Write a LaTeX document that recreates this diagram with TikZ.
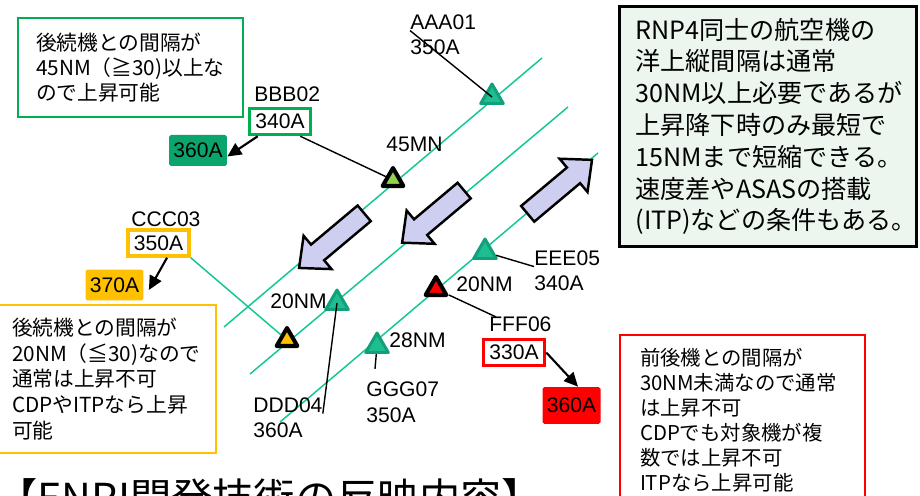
\documentclass[tikz,border=0pt]{standalone}
\usepackage{fontspec}
\setmainfont{Liberation Sans}
\newfontfamily\jpfont{Noto Sans CJK JP}
\usetikzlibrary{arrows.meta,shapes.geometric,shapes.arrows}

\definecolor{trackteal}{RGB}{20,200,150}
\definecolor{planedark}{RGB}{18,160,122}
\definecolor{planelight}{RGB}{30,190,145}
\definecolor{okgreen}{RGB}{0,176,80}
\definecolor{altgreen}{RGB}{10,165,108}
\definecolor{altorange}{RGB}{255,192,0}
\definecolor{climbgreen}{RGB}{146,208,80}
\definecolor{lavender}{RGB}{206,206,240}
\definecolor{mint}{RGB}{236,246,238}

\begin{document}
\begin{tikzpicture}[x=0.02cm, y=-0.02cm,
    track/.style={draw=trackteal, line width=0.85pt},
    leader/.style={draw=black, line width=0.8pt},
    altarrow/.style={draw=black, line width=1.2pt, -{Triangle[length=0.28cm,width=0.26cm]}},
    plane/.style={regular polygon, regular polygon sides=3, minimum size=0.52cm, inner sep=0pt, line width=1.7pt, line join=round},
    flagged/.style={plane, draw=black, line width=2.3pt, minimum size=0.48cm},
    bigarrow/.style={single arrow, draw=black, fill=lavender, line width=1.4pt, inner xsep=0pt, inner ysep=0.18cm, single arrow head extend=0.23cm, single arrow tip angle=84},
    lbl/.style={anchor=base west, inner sep=0pt, font=\fontsize{12}{14}\selectfont},
    altbox/.style={draw, fill=white, line width=2pt, minimum width=1.22cm, minimum height=0.52cm, inner sep=0pt, font=\fontsize{12}{14}\selectfont},
    fillbox/.style={minimum width=1.16cm, minimum height=0.62cm, rounded corners=1pt, inner sep=0pt, font=\fontsize{12}{14}\selectfont},
    note/.style={align=left, inner ysep=0pt}
  ]
  \useasboundingbox (0,0) rectangle (920,496);

  % Explanation boxes
  \node[note, draw=okgreen, line width=1.1pt, minimum width=4.5cm, minimum height=1.98cm, text width=3.78cm, inner xsep=0.36cm, font=\jpfont\fontsize{11.8}{14.2}\selectfont] (n45) at (130.5,67.5) {後続機との間隔が\\45NM（≧30)以上な\\ので上昇可能};
  \node[note, draw=black, line width=1.7pt, fill=mint, minimum width=5.94cm, minimum height=4.8cm, text width=5.3cm, inner xsep=0.32cm, font=\jpfont\fontsize{14.3}{18.1}\selectfont] (nrnp) at (768,126.5) {RNP4同士の航空機の\\洋上縦間隔は通常\\30NM以上必要であるが\\上昇降下時のみ最短で\\15NMまで短縮できる。\\速度差やASASの搭載\\(ITP)などの条件もある。};
  \node[note, draw=altorange, line width=1.1pt, minimum width=4.44cm, minimum height=2.96cm, text width=3.72cm, inner xsep=0.36cm, font=\jpfont\fontsize{11.8}{14.6}\selectfont] (n20) at (105,379) {後続機との間隔が\\20NM（≦30)なので\\通常は上昇不可\\CDPやITPなら上昇\\可能};
  \node[note, draw=red, line width=1.1pt, minimum width=4.9cm, minimum height=3.4cm, text width=4.1cm, inner xsep=0.4cm, font=\jpfont\fontsize{11.6}{14.2}\selectfont] (nlt30) at (742.5,420) {前後機との間隔が\\30NM未満なので通常\\は上昇不可\\CDPでも対象機が複\\数では上昇不可\\ITPなら上昇可能};

  % Tracks
  \coordinate (l1a) at (224,327);
  \coordinate (l1b) at (542,58);
  \coordinate (l2a) at (250,374);
  \coordinate (l2b) at (568,107);
  \coordinate (l3a) at (280,422);
  \coordinate (l3b) at (598,153);
  \draw[track] (l1a) -- (l1b);
  \draw[track] (l2a) -- (l2b);
  \draw[track] (l3a) -- (l3b);

  % Direction of flight
  \node[bigarrow, rotate=220, minimum height=1.7cm] (mv1) at (336,237) {};
  \node[bigarrow, rotate=220, minimum height=1.62cm] (mv2) at (437.5,213) {};
  \node[bigarrow, rotate=40, minimum height=1.68cm] (mv3) at (555.5,190.5) {};

  % Aircraft
  \foreach \n/\x/\y in {1/492/97, 4/337/303, 5/485/252, 7/377/346} {
    \node[plane, draw=planedark, fill=planelight] (t\n) at (\x,\y) {};
  }
  \node[flagged, fill=climbgreen] (t2) at (393,180) {};
  \node[flagged, fill=altorange] (t3) at (287,340) {};
  \node[flagged, fill=red] (t6) at (436,289) {};

  % Flight labels
  \node[lbl] (a1) at (410,30) {AAA01};
  \node[lbl] (a1alt) at (410,55) {350A};
  \node[lbl] (b2) at (254,102) {BBB02};
  \node[altbox, draw=okgreen] (b2alt) at (280,121.5) {340A};
  \node[fillbox, fill=altgreen] (g360) at (198,150.5) {360A};
  \node[lbl] (c3) at (131,227) {CCC03};
  \node[altbox, draw=altorange] (c3alt) at (158.5,243) {350A};
  \node[fillbox, fill=altorange] (o370) at (114.5,285) {370A};
  \node[lbl] (d4) at (253,413) {DDD04};
  \node[lbl] (d4alt) at (253,438) {360A};
  \node[lbl] (e5) at (534,266) {EEE05};
  \node[lbl] (e5alt) at (534,291) {340A};
  \node[lbl] (f6) at (489,332) {FFF06};
  \node[altbox, draw=red] (f6alt) at (514,352.5) {330A};
  \node[fillbox, fill=red, minimum height=0.74cm] (r360) at (571.5,405.5) {360A};
  \node[lbl] (g7) at (366,397) {GGG07};
  \node[lbl] (g7alt) at (366,423) {350A};

  % Spacing labels
  \node[lbl] (gap1) at (386,152) {45MN};
  \node[lbl] (gap2) at (270,309) {20NM};
  \node[lbl] (gap3) at (456,292) {20NM};
  \node[lbl] (gap4) at (389,348) {28NM};

  % Leaders
  \draw[leader] (a1.south west) -- (t1.center);
  \draw[leader] ([xshift=-0.24cm]b2alt.south east) -- (t2);
  \draw[leader] (d4.south east) -- (t4.center);
  \draw[leader] (t5) -- (e5.south west);
  \draw[leader] (t6) -- ([xshift=0.14cm]f6.north west);
  \draw[leader] (t7) -- ([xshift=0.18cm, yshift=0.26cm]g7.north west);
  \draw[track] (c3alt.south east) -- (t3);

  % Requested levels
  \draw[altarrow] ([xshift=0.2cm]b2alt.south west) -- ([yshift=-0.12cm]g360.east);
  \draw[altarrow] ([xshift=0.17cm]c3alt.south) -- ([shift={(0.1cm,-0.1cm)}]o370.east);
  \draw[altarrow] (f6alt.east) -- ([xshift=0.13cm]r360.north);

  % Title
  \node[anchor=base west, inner sep=0pt, font=\jpfont\fontsize{23.5}{28}\selectfont] (ttl) at (-4,514) {【ENRI開発技術の反映内容】};
\end{tikzpicture}
\end{document}
